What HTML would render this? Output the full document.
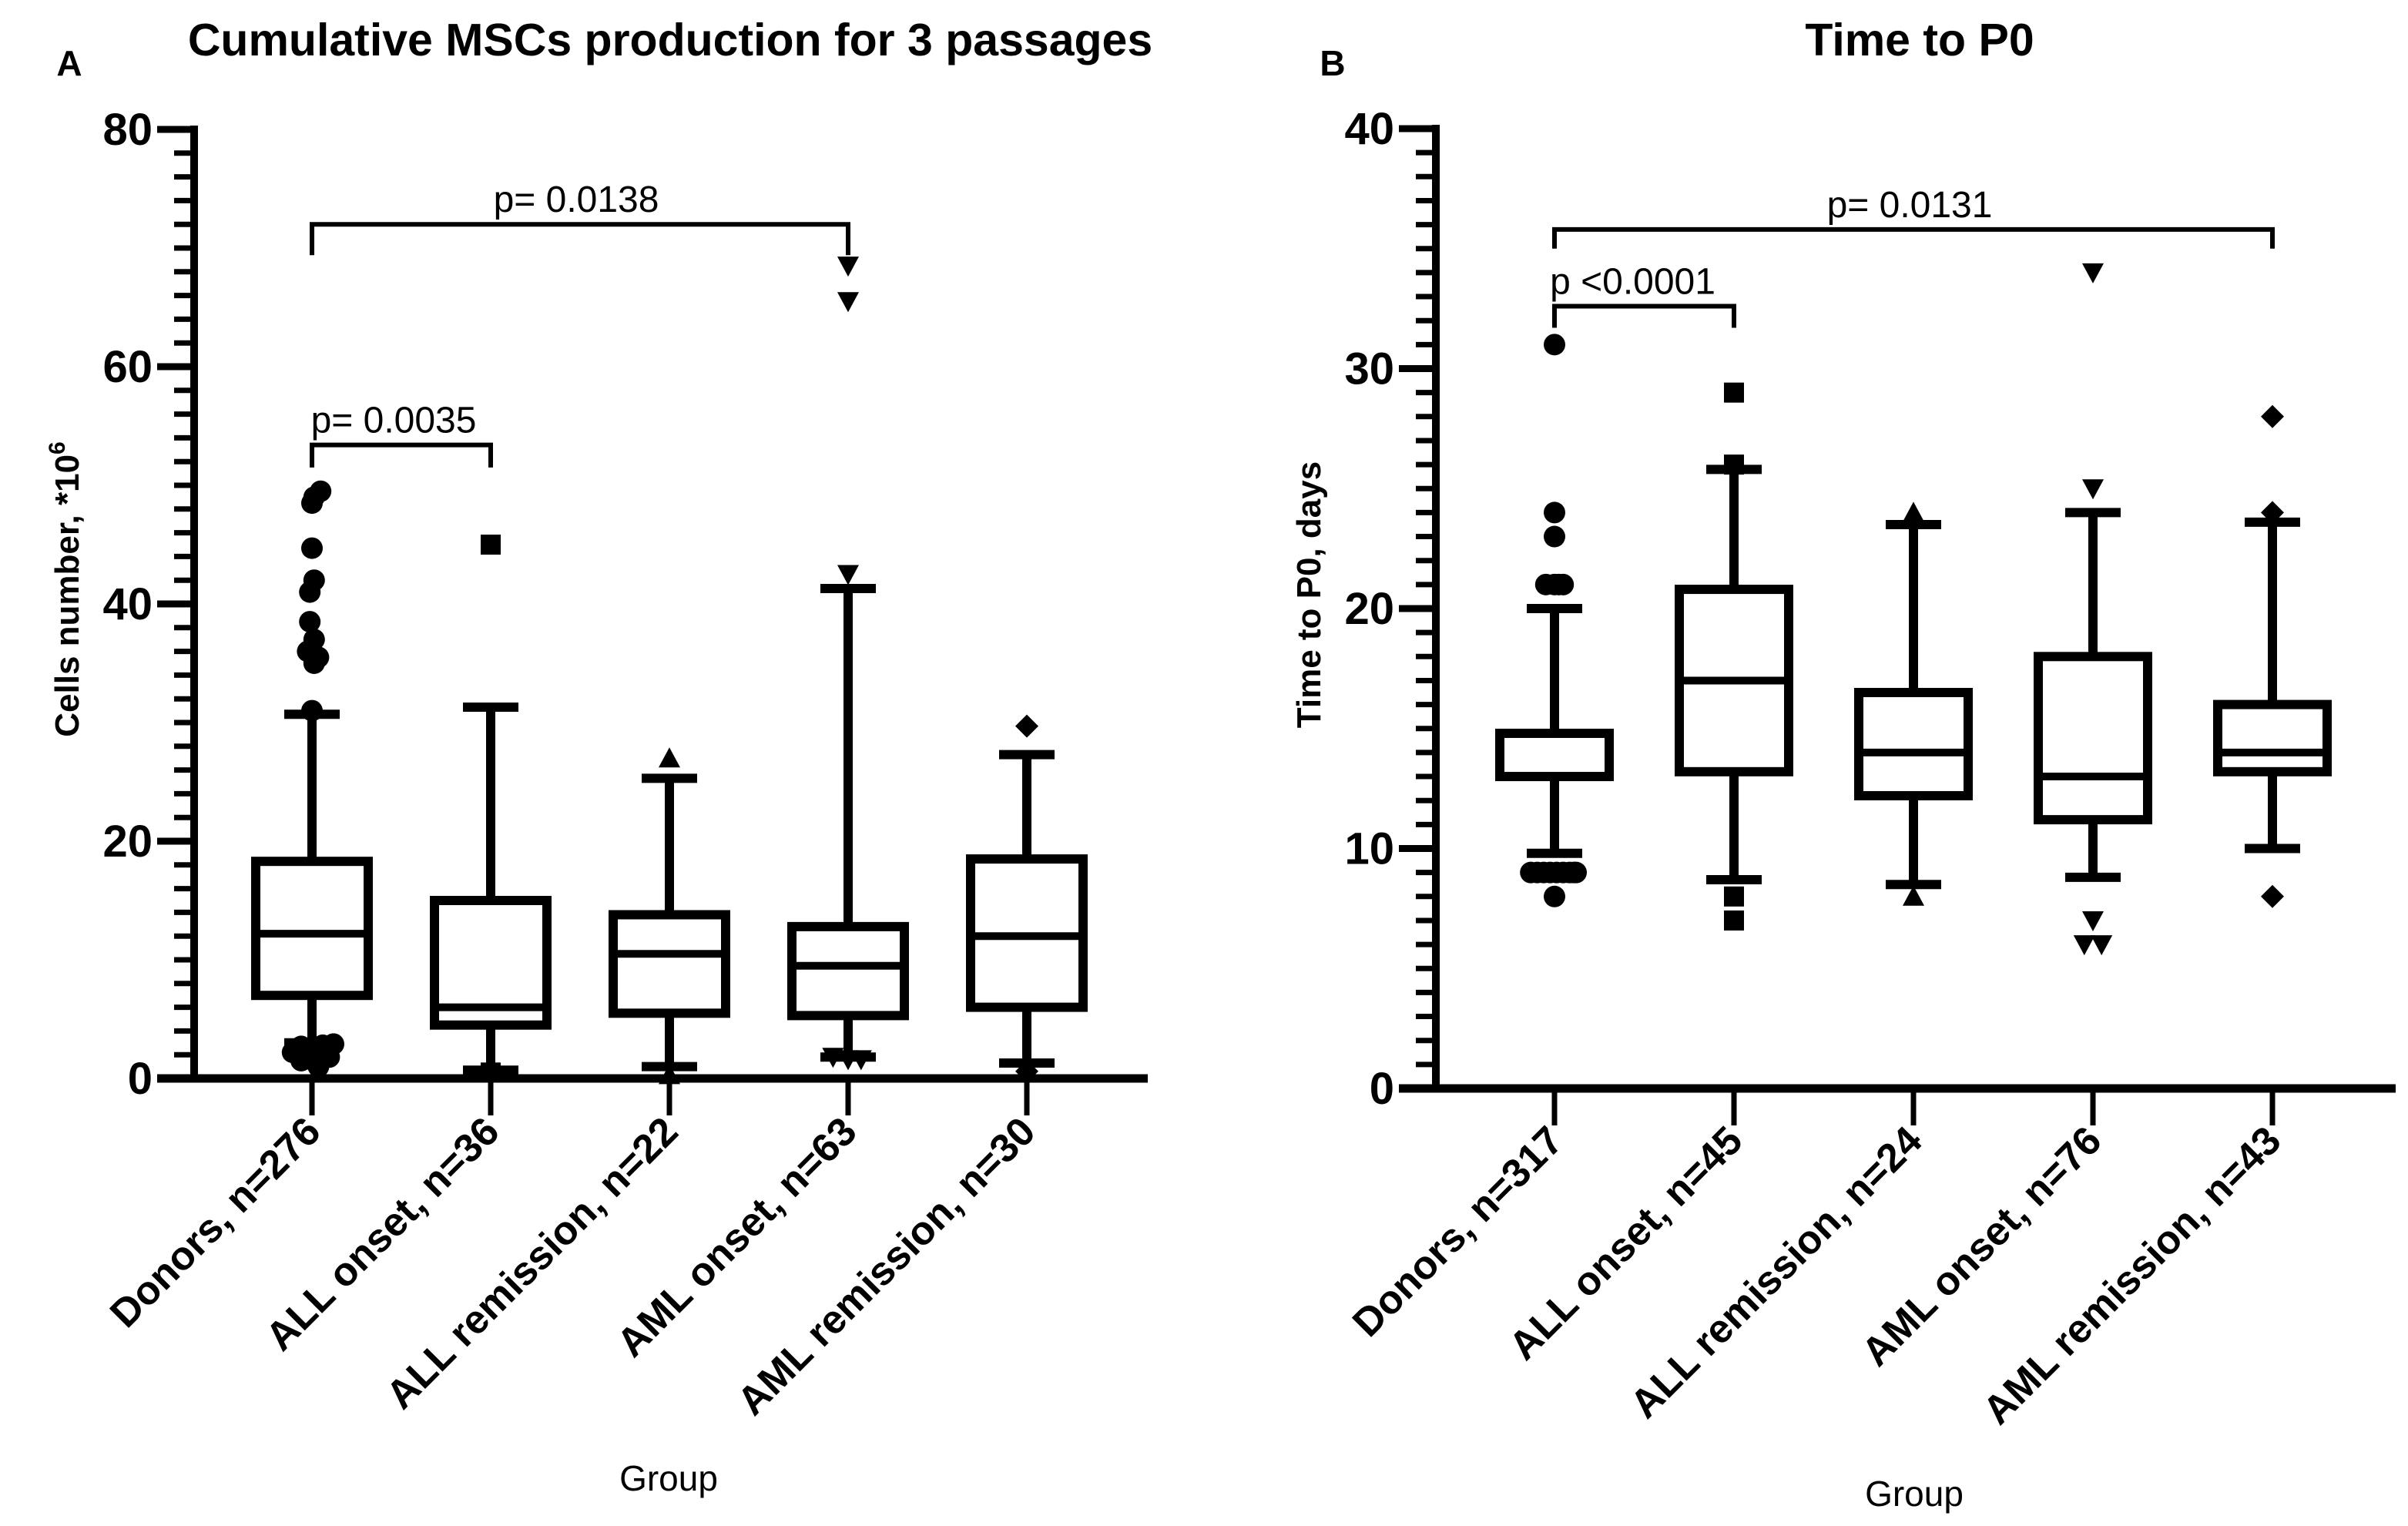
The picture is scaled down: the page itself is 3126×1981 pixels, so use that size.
<!DOCTYPE html>
<html><head><meta charset="utf-8"><style>
html,body{margin:0;padding:0;background:#fff;}
svg{display:block;font-family:"Liberation Sans",Arial,sans-serif;}
</style></head>
<body>
<svg id="fig" width="3126" height="1981" viewBox="0 0 3126 1981"></svg>
<script>
// ---------- Panel A data ----------
const catsA = ["Donors, n=276","ALL onset, n=36","ALL remission, n=22","AML onset, n=63","AML remission, n=30"];
const q1A = [7.0, 4.5, 5.5, 5.3, 6.0];
const medA = [12.2, 6.0, 10.5, 9.5, 12.0];
const q3A = [18.3, 15.0, 13.8, 12.8, 18.5];
const wLoA = [3.0, 0.7, 1.0, 1.8, 1.3];
const wHiA = [30.7, 31.3, 25.3, 41.3, 27.3];
const outGroupA = [0,0,0,0,0,0,0,0,0,0,0,0,0,0,0,0,0,0,0,0,0,0,1,1,2,2,3,3,3,3,3,3,4,4];
const outValA  = [49.5,49,48.5,44.7,42,41,38.5,37,36,35.5,35,31,2.2,2.7,1.5,2.0,1.3,2.8,2.9,1.8,1.0,2.4,45,0.5,27,0.3,68.5,65.5,42.5,1.8,1.6,1.6,29.7,0.6];
const outDxA   = [0.4,0.1,0,0,0.1,-0.1,-0.1,0.1,-0.2,0.3,0.1,0,-0.9,-0.5,-0.5,0.1,0.2,0.5,1.0,0.8,0.3,-0.3,0,0,0,0,0,0,0,-0.7,0,0.6,0,0];
const ticksA = [0,20,40,60,80];
// ---------- Panel B data ----------
const catsB = ["Donors, n=317","ALL onset, n=45","ALL remission, n=24","AML onset, n=76","AML remission, n=43"];
const q1B = [13.0, 13.2, 12.2, 11.2, 13.2];
const medB = [13.0, 17.0, 14.0, 13.0, 14.0];
const q3B = [14.8, 20.8, 16.5, 18.0, 16.0];
const wLoB = [9.8, 8.7, 8.5, 8.8, 10.0];
const wHiB = [20.0, 25.8, 23.5, 24.0, 23.6];
const outGroupB = [0,0,0,0,0,0,0,0,0,0,0,0,0,0,0,0,0,1,1,1,1,2,2,3,3,3,3,3,4,4,4];
const outValB  = [31,24,23,21,21,21,9,9,9,9,9,9,9,9,9,8,21,29,26,8,7,24,8,34,25,7,6,6,28,24,8];
const outDxB   = [0,0,0,-0.4,0,0.4,-1.1,-0.8,-0.5,-0.2,0.1,0.4,0.7,1.0,0.9,0,0.2,0,0,0,0,0,0,0,0,0,-0.4,0.4,0,0,0];
const ticksB = [0,10,20,30,40];

const NS="http://www.w3.org/2000/svg";
const svg=document.getElementById('fig');
function mk(tag,attrs,parent){const e=document.createElementNS(NS,tag);for(const k in attrs)e.setAttribute(k,attrs[k]);(parent||svg).appendChild(e);return e;}
function txt(s,attrs,parent){const e=mk('text',attrs,parent);e.textContent=s;return e;}

function marker(g,shape,cx,cy){
  let e;
  if(shape==='circle'){e=mk('circle',{cx:cx,cy:cy,r:14,fill:'#000'},g);}
  else if(shape==='square'){e=mk('rect',{x:cx-13,y:cy-13,width:26,height:26,fill:'#000'},g);}
  else if(shape==='up'){e=mk('polygon',{points:`${cx-14},${cy+12} ${cx+14},${cy+12} ${cx},${cy-14}`,fill:'#000'},g);}
  else if(shape==='down'){e=mk('polygon',{points:`${cx-14},${cy-12} ${cx+14},${cy-12} ${cx},${cy+14}`,fill:'#000'},g);}
  else {e=mk('polygon',{points:`${cx},${cy-15} ${cx+15},${cy} ${cx},${cy+15} ${cx-15},${cy}`,fill:'#000'},g);}
  return e;
}
const shapes=['circle','square','up','down','diamond'];

function panel(cfg){
  const g=mk('g',{});
  
  
  const y=v=>cfg.y0-(v-0)/(cfg.ymax)*(cfg.y0-cfg.yTop);
  const x=i=>cfg.xc0+i*cfg.dx;
  const t=txt(cfg.title,{x:cfg.titleX,y:72,'font-size':59,'font-weight':'bold','text-anchor':'middle'},g);
  
  
  const l=txt(cfg.letter,{x:cfg.letterX,y:98,'font-size':46,'font-weight':'bold','text-anchor':'middle'},g);
  
  
  const ax=mk('g',{},g);
  
  
  mk('line',{x1:cfg.ax,y1:y(cfg.ymax)-5,x2:cfg.ax,y2:cfg.y0+5,stroke:'#000','stroke-width':10},ax);
  for(let v=0;v<=cfg.ymax+1e-9;v+=cfg.minor){
    const major=Math.abs(v/cfg.major-Math.round(v/cfg.major))<1e-6;
    mk('line',{x1:cfg.ax-(major?48:26),y1:y(v),x2:cfg.ax,y2:y(v),stroke:'#000','stroke-width':major?9:7},ax);
  }
  cfg.ticks.forEach(v=>{
    const e=txt(String(v),{x:cfg.ax-54,y:y(v)+20,'font-size':58,'font-weight':'bold','text-anchor':'end'},ax);
    
    
  });
  const yt=txt('',{transform:`translate(${cfg.ytX},${cfg.ytY}) rotate(-90)`,'font-size':44,'font-weight':'bold','text-anchor':'middle'},ax);
  
  
  yt.textContent=cfg.yTitle;
  if(cfg.sup){const ts=mk('tspan',{'font-size':30,dy:-18},yt);ts.textContent=cfg.sup;}
  const xa=mk('g',{},g);
  
  
  mk('line',{x1:cfg.ax-48,y1:cfg.y0,x2:cfg.xEnd,y2:cfg.y0,stroke:'#000','stroke-width':11},xa);
  cfg.cats.forEach((c,i)=>{
    mk('line',{x1:x(i),y1:cfg.y0,x2:x(i),y2:cfg.y0+48,stroke:'#000','stroke-width':7},xa);
    const e=txt(c,{transform:`translate(${x(i)+14},${cfg.labY}) rotate(-45)`,'font-size':52,'font-weight':'bold','text-anchor':'end'},xa);
    
    
  });
  const gx=txt('Group',{x:cfg.groupX,y:cfg.groupY,'font-size':46,'text-anchor':'middle'},xa);
  
  
  cfg.cats.forEach((c,i)=>{
    const b=mk('g',{},g);
    
    
    const cx=x(i),hw=cfg.bw/2,cw=36;
    mk('line',{x1:cx,y1:y(cfg.wHi[i]),x2:cx,y2:y(cfg.q3[i]),stroke:'#000','stroke-width':12},b);
    mk('line',{x1:cx,y1:y(cfg.q1[i]),x2:cx,y2:y(cfg.wLo[i]),stroke:'#000','stroke-width':12},b);
    mk('line',{x1:cx-cw,y1:y(cfg.wHi[i]),x2:cx+cw,y2:y(cfg.wHi[i]),stroke:'#000','stroke-width':12},b);
    mk('line',{x1:cx-cw,y1:y(cfg.wLo[i]),x2:cx+cw,y2:y(cfg.wLo[i]),stroke:'#000','stroke-width':12},b);
    mk('rect',{x:cx-hw,y:y(cfg.q3[i]),width:cfg.bw,height:y(cfg.q1[i])-y(cfg.q3[i]),fill:'none',stroke:'#000','stroke-width':12},b);
    mk('line',{x1:cx-hw,y1:y(cfg.med[i]),x2:cx+hw,y2:y(cfg.med[i]),stroke:'#000','stroke-width':10},b);
  });
  const og=mk('g',{},g);
  
  
  cfg.og.forEach((gi,k)=>{
    const m=marker(og,shapes[gi],x(gi)+cfg.odx[k]*28,y(cfg.ov[k]));
    
    
  });
  cfg.brackets.forEach(br=>{
    const bg=mk('g',{},g);
    
    
    const x1=x(br.a),x2=x(br.b),yy=y(br.v),yd=y(br.v-br.drop);
    mk('polyline',{points:`${x1},${yd} ${x1},${yy} ${x2},${yy} ${x2},${yd}`,fill:'none',stroke:'#000','stroke-width':6},bg);
    txt(br.label,{x:(x1+x2)/2+br.tdx,y:yy-16,'font-size':48,'text-anchor':'middle'},bg);
  });
}

panel({name:'panel-a-cumulative-mscs',title:'Cumulative MSCs production for 3 passages',titleX:870,letter:'A',letterX:90,
  ax:252,y0:1400,yTop:168,ymax:80,minor:2,major:20,ticks:ticksA,xc0:405,dx:232,bw:146,xEnd:1490,
  ytX:102,ytY:765,yTitle:'Cells number, *10',sup:'6',labY:1472,groupX:868,groupY:1935,
  cats:catsA,q1:q1A,med:medA,q3:q3A,wLo:wLoA,wHi:wHiA,og:outGroupA,ov:outValA,odx:outDxA,
  brackets:[{a:0,b:3,v:72,drop:2.6,label:'p= 0.0138',tdx:-5},{a:0,b:1,v:53.4,drop:1.9,label:'p= 0.0035',tdx:-10}]});

panel({name:'panel-b-time-to-p0',title:'Time to P0',titleX:2492,letter:'B',letterX:1730,
  ax:1864,y0:1413,yTop:167,ymax:40,minor:1,major:10,ticks:ticksB,xc0:2018,dx:233,bw:142,xEnd:3110,
  ytX:1714,ytY:772,yTitle:'Time to P0, days',sup:'',labY:1484,groupX:2485,groupY:1955,
  cats:catsB,q1:q1B,med:medB,q3:q3B,wLo:wLoB,wHi:wHiB,og:outGroupB,ov:outValB,odx:outDxB,
  brackets:[{a:0,b:4,v:35.8,drop:0.8,label:'p= 0.0131',tdx:-5},{a:0,b:1,v:32.6,drop:0.9,label:'p <0.0001',tdx:-15}]});
</script>
</body></html>
